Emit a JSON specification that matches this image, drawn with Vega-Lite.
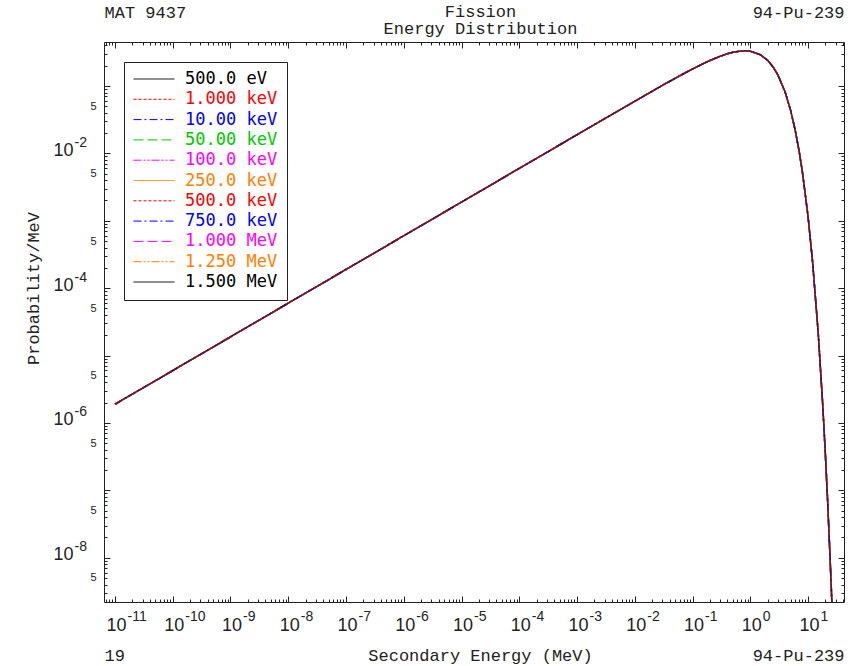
{
  "$schema": "https://vega.github.io/schema/vega-lite/v6.json",
  "width": 740,
  "height": 560,
  "autosize": {"type": "none"},
  "padding": {"left": 104, "top": 42, "right": 17, "bottom": 64},
  "background": "white",
  "config": {
    "view": {"stroke": "#222222", "strokeWidth": 1},
    "axis": {"domain": false, "grid": false, "tickColor": "#222222", "tickWidth": 1, "labelColor": "#222222", "titleColor": "#222222", "labelFont": "Liberation Sans", "titleFont": "Liberation Mono", "titleFontSize": 17, "titleFontWeight": "normal", "labelOverlap": false, "labelFlush": false, "labelBound": false}
  },
  "data": {"values": [
    {"E":1e-11,"s01":1.893e-6,"s02":1.893e-6,"s03":1.893e-6,"s04":1.893e-6,"s05":1.893e-6,"s06":1.893e-6,"s07":1.893e-6,"s08":1.893e-6,"s09":1.893e-6,"s10":1.893e-6,"s11":1.893e-6},
    {"E":1e-10,"s01":5.985e-6,"s02":5.985e-6,"s03":5.985e-6,"s04":5.985e-6,"s05":5.985e-6,"s06":5.985e-6,"s07":5.985e-6,"s08":5.985e-6,"s09":5.985e-6,"s10":5.985e-6,"s11":5.985e-6},
    {"E":1e-9,"s01":1.893e-5,"s02":1.893e-5,"s03":1.893e-5,"s04":1.893e-5,"s05":1.893e-5,"s06":1.893e-5,"s07":1.893e-5,"s08":1.893e-5,"s09":1.893e-5,"s10":1.893e-5,"s11":1.893e-5},
    {"E":1e-8,"s01":5.985e-5,"s02":5.985e-5,"s03":5.985e-5,"s04":5.985e-5,"s05":5.985e-5,"s06":5.985e-5,"s07":5.985e-5,"s08":5.985e-5,"s09":5.985e-5,"s10":5.985e-5,"s11":5.985e-5},
    {"E":1e-7,"s01":1.893e-4,"s02":1.893e-4,"s03":1.893e-4,"s04":1.893e-4,"s05":1.893e-4,"s06":1.893e-4,"s07":1.893e-4,"s08":1.893e-4,"s09":1.893e-4,"s10":1.893e-4,"s11":1.893e-4},
    {"E":1e-6,"s01":5.985e-4,"s02":5.985e-4,"s03":5.985e-4,"s04":5.985e-4,"s05":5.985e-4,"s06":5.985e-4,"s07":5.985e-4,"s08":5.985e-4,"s09":5.985e-4,"s10":5.985e-4,"s11":5.985e-4},
    {"E":1e-5,"s01":1.893e-3,"s02":1.893e-3,"s03":1.893e-3,"s04":1.893e-3,"s05":1.893e-3,"s06":1.893e-3,"s07":1.893e-3,"s08":1.893e-3,"s09":1.893e-3,"s10":1.893e-3,"s11":1.893e-3},
    {"E":1e-4,"s01":5.984e-3,"s02":5.984e-3,"s03":5.984e-3,"s04":5.984e-3,"s05":5.984e-3,"s06":5.984e-3,"s07":5.984e-3,"s08":5.984e-3,"s09":5.984e-3,"s10":5.984e-3,"s11":5.984e-3},
    {"E":1e-3,"s01":0.01891,"s02":0.01891,"s03":0.01891,"s04":0.01891,"s05":0.01891,"s06":0.01891,"s07":0.01891,"s08":0.01891,"s09":0.01891,"s10":0.01891,"s11":0.01891},
    {"E":0.003,"s01":0.03272,"s02":0.03272,"s03":0.03272,"s04":0.03272,"s05":0.03272,"s06":0.03272,"s07":0.03272,"s08":0.03272,"s09":0.03272,"s10":0.03272,"s11":0.03272},
    {"E":0.01,"s01":0.05951,"s02":0.05951,"s03":0.05951,"s04":0.05951,"s05":0.05951,"s06":0.05951,"s07":0.05951,"s08":0.05951,"s09":0.05951,"s10":0.05951,"s11":0.05951},
    {"E":0.02,"s01":0.08369,"s02":0.08369,"s03":0.08369,"s04":0.08369,"s05":0.08369,"s06":0.08369,"s07":0.08369,"s08":0.08369,"s09":0.08369,"s10":0.08369,"s11":0.08369},
    {"E":0.03,"s01":0.1019,"s02":0.1019,"s03":0.1019,"s04":0.1019,"s05":0.1019,"s06":0.1019,"s07":0.1019,"s08":0.1019,"s09":0.1019,"s10":0.1019,"s11":0.1019},
    {"E":0.05,"s01":0.1301,"s02":0.1301,"s03":0.1301,"s04":0.1301,"s05":0.1301,"s06":0.1301,"s07":0.1301,"s08":0.1301,"s09":0.1301,"s10":0.1301,"s11":0.1301},
    {"E":0.07,"s01":0.1522,"s02":0.1522,"s03":0.1522,"s04":0.1522,"s05":0.1522,"s06":0.1522,"s07":0.1522,"s08":0.1522,"s09":0.1522,"s10":0.1522,"s11":0.1522},
    {"E":0.1,"s01":0.1788,"s02":0.1788,"s03":0.1788,"s04":0.1788,"s05":0.1788,"s06":0.1788,"s07":0.1788,"s08":0.1788,"s09":0.1788,"s10":0.1788,"s11":0.1788},
    {"E":0.15,"s01":0.2129,"s02":0.2129,"s03":0.2129,"s04":0.2129,"s05":0.2129,"s06":0.2129,"s07":0.2129,"s08":0.2129,"s09":0.2129,"s10":0.2129,"s11":0.2129},
    {"E":0.2,"s01":0.2388,"s02":0.2388,"s03":0.2388,"s04":0.2388,"s05":0.2388,"s06":0.2388,"s07":0.2388,"s08":0.2388,"s09":0.2388,"s10":0.2388,"s11":0.2388},
    {"E":0.3,"s01":0.2759,"s02":0.2759,"s03":0.2759,"s04":0.2759,"s05":0.2759,"s06":0.2759,"s07":0.2759,"s08":0.2759,"s09":0.2759,"s10":0.2759,"s11":0.2759},
    {"E":0.4,"s01":0.3003,"s02":0.3003,"s03":0.3003,"s04":0.3003,"s05":0.3003,"s06":0.3003,"s07":0.3003,"s08":0.3003,"s09":0.3003,"s10":0.3003,"s11":0.3003},
    {"E":0.5,"s01":0.3163,"s02":0.3163,"s03":0.3163,"s04":0.3163,"s05":0.3163,"s06":0.3163,"s07":0.3163,"s08":0.3163,"s09":0.3163,"s10":0.3163,"s11":0.3163},
    {"E":0.7,"s01":0.3314,"s02":0.3314,"s03":0.3314,"s04":0.3314,"s05":0.3314,"s06":0.3314,"s07":0.3314,"s08":0.3314,"s09":0.3314,"s10":0.3314,"s11":0.3314},
    {"E":0.85,"s01":0.3328,"s02":0.3328,"s03":0.3328,"s04":0.3328,"s05":0.3328,"s06":0.3328,"s07":0.3328,"s08":0.3328,"s09":0.3328,"s10":0.3328,"s11":0.3328},
    {"E":1,"s01":0.3285,"s02":0.3285,"s03":0.3285,"s04":0.3285,"s05":0.3285,"s06":0.3285,"s07":0.3285,"s08":0.3285,"s09":0.3285,"s10":0.3285,"s11":0.3285},
    {"E":1.5,"s01":0.2914,"s02":0.2914,"s03":0.2914,"s04":0.2914,"s05":0.2914,"s06":0.2914,"s07":0.2914,"s08":0.2914,"s09":0.2914,"s10":0.2914,"s11":0.2914},
    {"E":2,"s01":0.2409,"s02":0.2409,"s03":0.2409,"s04":0.2409,"s05":0.2409,"s06":0.2409,"s07":0.2409,"s08":0.2409,"s09":0.2409,"s10":0.2409,"s11":0.2409},
    {"E":2.5,"s01":0.1908,"s02":0.1908,"s03":0.1908,"s04":0.1908,"s05":0.1908,"s06":0.1908,"s07":0.1908,"s08":0.1908,"s09":0.1908,"s10":0.1908,"s11":0.1908},
    {"E":3,"s01":0.147,"s02":0.147,"s03":0.147,"s04":0.147,"s05":0.147,"s06":0.147,"s07":0.147,"s08":0.147,"s09":0.147,"s10":0.147,"s11":0.147},
    {"E":4,"s01":0.08216,"s02":0.08216,"s03":0.08216,"s04":0.08216,"s05":0.08216,"s06":0.08216,"s07":0.08216,"s08":0.08216,"s09":0.08216,"s10":0.08216,"s11":0.08216},
    {"E":5,"s01":0.04347,"s02":0.04347,"s03":0.04347,"s04":0.04347,"s05":0.04347,"s06":0.04347,"s07":0.04347,"s08":0.04347,"s09":0.04347,"s10":0.04347,"s11":0.04347},
    {"E":6,"s01":0.02213,"s02":0.02213,"s03":0.02213,"s04":0.02213,"s05":0.02213,"s06":0.02213,"s07":0.02213,"s08":0.02213,"s09":0.02213,"s10":0.02213,"s11":0.02213},
    {"E":7,"s01":0.01094,"s02":0.01094,"s03":0.01094,"s04":0.01094,"s05":0.01094,"s06":0.01094,"s07":0.01094,"s08":0.01094,"s09":0.01094,"s10":0.01094,"s11":0.01094},
    {"E":8,"s01":0.005289,"s02":0.005289,"s03":0.005289,"s04":0.005289,"s05":0.005289,"s06":0.005289,"s07":0.005289,"s08":0.005289,"s09":0.005289,"s10":0.005289,"s11":0.005289},
    {"E":10,"s01":0.001171,"s02":0.001171,"s03":0.001171,"s04":0.001171,"s05":0.001171,"s06":0.001171,"s07":0.001171,"s08":0.001171,"s09":0.001171,"s10":0.001171,"s11":0.001171},
    {"E":12,"s01":0.0002457,"s02":0.0002457,"s03":0.0002457,"s04":0.0002457,"s05":0.0002457,"s06":0.0002457,"s07":0.0002457,"s08":0.0002457,"s09":0.0002457,"s10":0.0002457,"s11":0.0002457},
    {"E":15,"s01":2.193e-5,"s02":2.193e-5,"s03":2.193e-5,"s04":2.193e-5,"s05":2.193e-5,"s06":2.193e-5,"s07":2.193e-5,"s08":2.193e-5,"s09":2.193e-5,"s10":2.193e-5,"s11":2.193e-5},
    {"E":18,"s01":1.832e-6,"s02":1.832e-6,"s03":1.832e-6,"s04":1.832e-6,"s05":1.832e-6,"s06":1.832e-6,"s07":1.832e-6,"s08":1.832e-6,"s09":1.832e-6,"s10":1.832e-6,"s11":1.832e-6},
    {"E":20,"s01":3.403e-7,"s02":3.403e-7,"s03":3.403e-7,"s04":3.403e-7,"s05":3.403e-7,"s06":3.403e-7,"s07":3.403e-7,"s08":3.403e-7,"s09":3.403e-7,"s10":3.403e-7,"s11":3.403e-7},
    {"E":22,"s01":6.201e-8,"s02":6.201e-8,"s03":6.201e-8,"s04":6.201e-8,"s05":6.201e-8,"s06":6.201e-8,"s07":6.201e-8,"s08":6.201e-8,"s09":6.201e-8,"s10":6.201e-8,"s11":6.201e-8},
    {"E":25,"s01":4.682e-9,"s02":4.682e-9,"s03":4.682e-9,"s04":4.682e-9,"s05":4.682e-9,"s06":4.682e-9,"s07":4.682e-9,"s08":4.682e-9,"s09":4.682e-9,"s10":4.682e-9,"s11":4.682e-9},
    {"E":27,"s01":8.22e-10,"s02":8.22e-10,"s03":8.22e-10,"s04":8.22e-10,"s05":8.22e-10,"s06":8.22e-10,"s07":8.22e-10,"s08":8.22e-10,"s09":8.22e-10,"s10":8.22e-10,"s11":8.22e-10}
  ]},
  "transform": [
    {"fold": ["s01","s02","s03","s04","s05","s06","s07","s08","s09","s10","s11"], "as": ["series", "p"]}
  ],
  "resolve": {"axis": {"x": "independent", "y": "independent"}},
  "layer": [
    {
      "mark": {"type": "line", "strokeWidth": 1.5, "clip": true, "strokeOpacity": 0.6},
      "encoding": {
        "x": {
          "field": "E", "type": "quantitative",
          "scale": {"type": "log", "domain": [6.45e-12, 42], "nice": false},
          "axis": {
            "orient": "bottom",
            "values": [7e-12,8e-12,9e-12,1e-11,2e-11,3e-11,4e-11,5e-11,6e-11,7e-11,8e-11,9e-11,1e-10,2e-10,3e-10,4e-10,5e-10,6e-10,7e-10,8e-10,9e-10,1e-9,2e-9,3e-9,4e-9,5e-9,6e-9,7e-9,8e-9,9e-9,1e-8,2e-8,3e-8,4e-8,5e-8,6e-8,7e-8,8e-8,9e-8,1e-7,2e-7,3e-7,4e-7,5e-7,6e-7,7e-7,8e-7,9e-7,1e-6,2e-6,3e-6,4e-6,5e-6,6e-6,7e-6,8e-6,9e-6,1e-5,2e-5,3e-5,4e-5,5e-5,6e-5,7e-5,8e-5,9e-5,1e-4,2e-4,3e-4,4e-4,5e-4,6e-4,7e-4,8e-4,9e-4,1e-3,2e-3,3e-3,4e-3,5e-3,6e-3,7e-3,8e-3,9e-3,0.01,0.02,0.03,0.04,0.05,0.06,0.07,0.08,0.09,0.1,0.2,0.3,0.4,0.5,0.6,0.7,0.8,0.9,1,2,3,4,5,6,7,8,9,10,20,30,40],
            "labels": false, "tickSize": -3,
            "title": "Secondary Energy (MeV)", "titleX": 376, "titleY": 58, "titleAlign": "center", "titleBaseline": "alphabetic"
          }
        },
        "y": {
          "field": "p", "type": "quantitative",
          "scale": {"type": "log", "domain": [2.2e-9, 0.45], "nice": false},
          "axis": {
            "orient": "left",
            "values": [3e-9,4e-9,5e-9,6e-9,7e-9,8e-9,9e-9,2e-8,3e-8,4e-8,5e-8,6e-8,7e-8,8e-8,9e-8,2e-7,3e-7,4e-7,5e-7,6e-7,7e-7,8e-7,9e-7,2e-6,3e-6,4e-6,5e-6,6e-6,7e-6,8e-6,9e-6,2e-5,3e-5,4e-5,5e-5,6e-5,7e-5,8e-5,9e-5,2e-4,3e-4,4e-4,5e-4,6e-4,7e-4,8e-4,9e-4,2e-3,3e-3,4e-3,5e-3,6e-3,7e-3,8e-3,9e-3,0.02,0.03,0.04,0.05,0.06,0.07,0.08,0.09,0.2,0.3,0.4],
            "labelExpr": "abs(datum.value / pow(10, floor(log(datum.value)/LN10 + 0.0001)) - 5) < 0.001 ? '5' : ''",
            "labelFont": "Liberation Sans", "labelFontSize": 11, "labelAlign": "right", "labelBaseline": "middle",
            "labelPadding": 11, "tickSize": -3,
            "title": "Probability/MeV", "titleX": -71, "titleY": 246, "titleAngle": 270, "titleAlign": "center", "titleBaseline": "middle"
          }
        },
        "color": {
          "field": "series", "type": "nominal",
          "scale": {
            "domain": ["s01","s02","s03","s04","s05","s06","s07","s08","s09","s10","s11"],
            "range": ["#000000","#ff0000","#0000ff","#00c800","#ff00ff","#ff8000","#ff0000","#0000ff","#ff00ff","#ff8000","#000000"]
          },
          "legend": {
            "title": null, "orient": "top-left", "offset": 20, "padding": 9,
            "strokeColor": "#222222", "fillColor": "white",
            "symbolType": "stroke", "symbolSize": 1681, "symbolStrokeWidth": 1,
            "clipHeight": 16, "rowPadding": 3.3, "labelOffset": 10,
            "labelFont": "DejaVu Sans Mono", "labelFontSize": 17, "labelLimit": 300,
            "labelExpr": "['500.0 eV','1.000 keV','10.00 keV','50.00 keV','100.0 keV','250.0 keV','500.0 keV','750.0 keV','1.000 MeV','1.250 MeV','1.500 MeV'][indexof(['s01','s02','s03','s04','s05','s06','s07','s08','s09','s10','s11'], datum.value)]",
            "encode": {"labels": {"update": {"fill": {"scale": "color", "field": "value"}}}}
          }
        },
        "strokeDash": {
          "field": "series", "type": "nominal",
          "scale": {
            "domain": ["s01","s02","s03","s04","s05","s06","s07","s08","s09","s10","s11"],
            "range": [[1,0],[3,2],[8,3,2,3],[10,4],[8,2,2,2,2,2],[1,0],[3,2],[8,3,2,3],[10,4],[8,2,2,2,2,2],[1,0]]
          }
        }
      }
    },
    {
      "transform": [{"filter": "datum.series == 's01'"}],
      "mark": {"type": "point", "opacity": 0},
      "encoding": {
        "x": {
          "field": "E", "type": "quantitative",
          "axis": {
            "orient": "bottom", "values": [1e-11,1e-10,1e-9,1e-8,1e-7,1e-6,1e-5,1e-4,1e-3,0.01,0.1,1,10],
            "tickSize": -6, "labelExpr": "'10'",
            "labelFont": "Liberation Sans", "labelFontSize": 18, "labelAlign": "center", "labelBaseline": "alphabetic",
            "labelPadding": 34, "labelOffset": 1,
            "title": "19", "titleX": 0, "titleY": 58, "titleAlign": "left", "titleBaseline": "alphabetic"
          }
        },
        "y": {
          "field": "p", "type": "quantitative",
          "axis": {
            "orient": "left", "values": [1e-8,1e-7,1e-6,1e-5,1e-4,1e-3,0.01,0.1],
            "tickSize": -6,
            "labelExpr": "round(log(datum.value)/LN10) % 2 == 0 ? '10' : ''",
            "labelFont": "Liberation Sans", "labelFontSize": 18, "labelAlign": "right", "labelBaseline": "middle",
            "labelPadding": 37, "labelOffset": -3, "title": null
          }
        }
      }
    },
    {
      "transform": [{"filter": "datum.series == 's01'"}],
      "mark": {"type": "point", "opacity": 0},
      "encoding": {
        "x": {
          "field": "E", "type": "quantitative",
          "axis": {
            "orient": "bottom", "values": [1e-11,1e-10,1e-9,1e-8,1e-7,1e-6,1e-5,1e-4,1e-3,0.01,0.1,1,10],
            "ticks": false, "labelExpr": "'' + round(log(datum.value)/LN10)",
            "labelFont": "Liberation Sans", "labelFontSize": 14, "labelAlign": "left", "labelBaseline": "alphabetic",
            "labelPadding": 18, "labelOffset": 12,
            "title": "94-Pu-239", "titleX": 740, "titleY": 58, "titleAlign": "right", "titleBaseline": "alphabetic"
          }
        },
        "y": {
          "field": "p", "type": "quantitative",
          "axis": {
            "orient": "left", "values": [1e-8,1e-6,1e-4,0.01],
            "ticks": false, "labelExpr": "'' + round(log(datum.value)/LN10)",
            "labelFont": "Liberation Sans", "labelFontSize": 14, "labelAlign": "left", "labelBaseline": "middle",
            "labelPadding": 30, "labelOffset": -11, "title": null
          }
        }
      }
    },
    {
      "transform": [{"filter": "datum.series == 's01'"}],
      "mark": {"type": "point", "opacity": 0},
      "encoding": {
        "x": {
          "field": "E", "type": "quantitative",
          "axis": {
            "orient": "top",
            "values": [7e-12,8e-12,9e-12,2e-11,3e-11,4e-11,5e-11,6e-11,7e-11,8e-11,9e-11,2e-10,3e-10,4e-10,5e-10,6e-10,7e-10,8e-10,9e-10,2e-9,3e-9,4e-9,5e-9,6e-9,7e-9,8e-9,9e-9,2e-8,3e-8,4e-8,5e-8,6e-8,7e-8,8e-8,9e-8,2e-7,3e-7,4e-7,5e-7,6e-7,7e-7,8e-7,9e-7,2e-6,3e-6,4e-6,5e-6,6e-6,7e-6,8e-6,9e-6,2e-5,3e-5,4e-5,5e-5,6e-5,7e-5,8e-5,9e-5,2e-4,3e-4,4e-4,5e-4,6e-4,7e-4,8e-4,9e-4,2e-3,3e-3,4e-3,5e-3,6e-3,7e-3,8e-3,9e-3,0.02,0.03,0.04,0.05,0.06,0.07,0.08,0.09,0.2,0.3,0.4,0.5,0.6,0.7,0.8,0.9,2,3,4,5,6,7,8,9,20,30,40],
            "labels": false, "tickSize": -3,
            "title": "MAT 9437", "titleX": 0, "titleY": -25, "titleAlign": "left", "titleBaseline": "alphabetic"
          }
        },
        "y": {
          "field": "p", "type": "quantitative",
          "axis": {
            "orient": "right",
            "values": [3e-9,4e-9,5e-9,6e-9,7e-9,8e-9,9e-9,2e-8,3e-8,4e-8,5e-8,6e-8,7e-8,8e-8,9e-8,2e-7,3e-7,4e-7,5e-7,6e-7,7e-7,8e-7,9e-7,2e-6,3e-6,4e-6,5e-6,6e-6,7e-6,8e-6,9e-6,2e-5,3e-5,4e-5,5e-5,6e-5,7e-5,8e-5,9e-5,2e-4,3e-4,4e-4,5e-4,6e-4,7e-4,8e-4,9e-4,2e-3,3e-3,4e-3,5e-3,6e-3,7e-3,8e-3,9e-3,0.02,0.03,0.04,0.05,0.06,0.07,0.08,0.09,0.2,0.3,0.4],
            "labels": false, "tickSize": -3, "title": null
          }
        }
      }
    },
    {
      "transform": [{"filter": "datum.series == 's01'"}],
      "mark": {"type": "point", "opacity": 0},
      "encoding": {
        "x": {
          "field": "E", "type": "quantitative",
          "axis": {
            "orient": "top", "values": [1e-11,1e-10,1e-9,1e-8,1e-7,1e-6,1e-5,1e-4,1e-3,0.01,0.1,1,10],
            "labels": false, "tickSize": -6,
            "title": "94-Pu-239", "titleX": 740, "titleY": -25, "titleAlign": "right", "titleBaseline": "alphabetic"
          }
        },
        "y": {
          "field": "p", "type": "quantitative",
          "axis": {
            "orient": "right", "values": [1e-8,1e-7,1e-6,1e-5,1e-4,1e-3,0.01,0.1],
            "labels": false, "tickSize": -6, "title": null
          }
        }
      }
    },
    {
      "transform": [{"filter": "datum.series == 's01'"}],
      "mark": {"type": "point", "opacity": 0},
      "encoding": {
        "x": {
          "field": "E", "type": "quantitative",
          "axis": {
            "orient": "top", "ticks": false, "labels": false,
            "title": ["Fission", "Energy Distribution"], "titleX": 376, "titleY": -26, "titleAlign": "center", "titleBaseline": "alphabetic", "titleLineHeight": 17.5
          }
        }
      }
    }
  ]
}
